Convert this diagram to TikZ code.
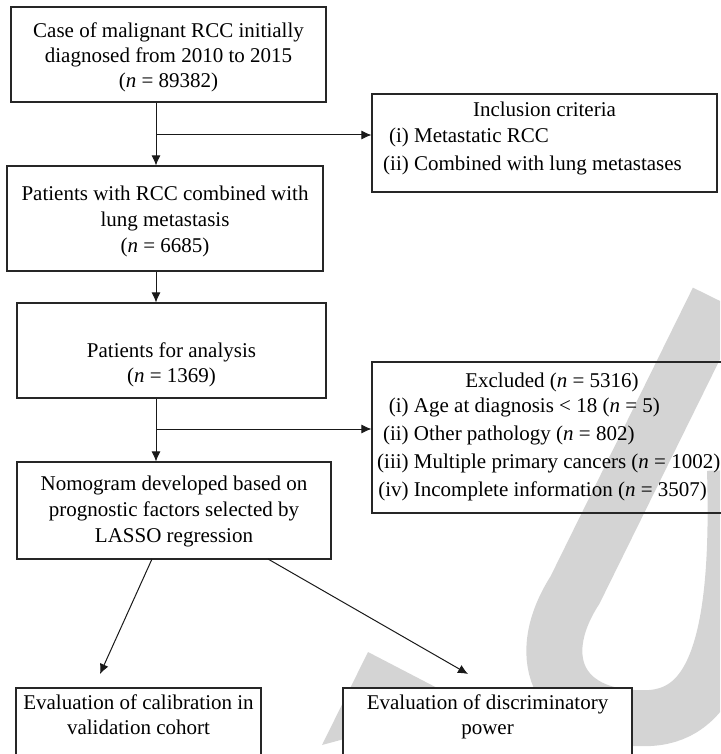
\documentclass[tikz,border=0pt]{standalone}
\usepackage{fontspec}
\setmainfont{Liberation Serif}
\usetikzlibrary{arrows.meta}
\newcommand{\nn}{\textit{n}}
\newcommand{\ml}[1]{\begin{tabular}[t]{@{}c@{}}#1\end{tabular}}
\newcommand{\lst}[1]{\begin{tabular}[t]{@{}r@{\ }l@{}}#1\end{tabular}}
\begin{document}
\begin{tikzpicture}[x=1pt,y=-1pt,
  box/.style={draw=black!85, line width=1.1pt, inner sep=0pt},
  wbox/.style={box, fill=white},
  txt/.style={inner sep=0pt, anchor=base, font=\fontsize{21}{25}\selectfont},
  arr/.style={line width=1pt, draw=black!90, -{Latex[length=10pt,width=9pt]}},
  wm/.style={draw=black!17, line width=56pt},
  wmf/.style={fill=black!17}]
\useasboundingbox (0,0) rectangle (720,754);
% watermark
\begin{scope}
\clip (0,0) rectangle (720,754);
\draw[wm] (718,300) -- (575,590) .. controls (530,660) and (560,722) .. (650,718)
  .. controls (715,714) and (740,640) .. (735,470);
\fill[wmf] (322,745) -- (368,652) -- (470,705) -- cycle;
\end{scope}
% boxes
\node[box, minimum width=315pt, minimum height=95pt] (b1) at (168.5,54.5) {};
\node[box, minimum width=316pt, minimum height=105pt] (b2) at (165,218.5) {};
\node[box, minimum width=309pt, minimum height=95pt] (b3) at (171.5,350.5) {};
\node[box, minimum width=314pt, minimum height=97pt] (b4) at (174,510.5) {};
\node[box, minimum width=345pt, minimum height=98pt] (inc) at (544.5,143) {};
\node[box, minimum width=360pt, minimum height=151pt] (exc) at (552,437.5) {};
\node[wbox, minimum width=245pt, minimum height=84pt] (b5) at (138.5,730) {};
\node[wbox, minimum width=289pt, minimum height=84pt] (b6) at (487.5,730) {};
% texts
\node[txt] (t1) at (168.5,38) {\ml{Case of malignant RCC initially\\diagnosed from 2010 to 2015\\(\nn{} = 89382)}};
\node[txt, font=\fontsize{21}{26}\selectfont] (t2) at (165,200) {\ml{Patients with RCC combined with\\lung metastasis\\(\nn{} = 6685)}};
\node[txt] (t3) at (171.5,357) {\ml{Patients for analysis\\(\nn{} = 1369)}};
\node[txt, font=\fontsize{21}{26}\selectfont] (t4) at (174,490) {\ml{Nomogram developed based on\\prognostic factors selected by\\LASSO regression}};
\node[txt] (t5) at (138.5,709) {\ml{Evaluation of calibration in\\validation cohort}};
\node[txt] (t6) at (487.5,709) {\ml{Evaluation of discriminatory\\power}};
\node[txt] (inct) at (544.5,117) {Inclusion criteria};
\node[txt, anchor=base west, font=\fontsize{21}{28}\selectfont] (incl) at (383,143) {\lst{(i)&Metastatic RCC\\(ii)&Combined with lung metastases}};
\node[txt] (exct) at (552,387) {Excluded (\nn{} = 5316)};
\node[txt, anchor=base west, font=\fontsize{21}{28.3}\selectfont] (excl) at (377,412) {\lst{(i)&Age at diagnosis < 18 (\nn{} = 5)\\(ii)&Other pathology (\nn{} = 802)\\(iii)&Multiple primary cancers (\nn{} = 1002)\\(iv)&Incomplete information (\nn{} = 3507)}};
% connectors
\coordinate (cx) at (156,0);
\coordinate (br1) at (156,135);
\coordinate (br2) at (156,429);
\coordinate (s1) at (152,559);
\coordinate (s2) at (268,559);
\coordinate (e1) at (100,674);
\coordinate (e2) at (468,674);
\draw[arr] (b1.south -| cx) -- (b2.north -| cx);
\draw[arr] (br1) -- (br1 -| inc.west);
\draw[arr] (b2.south -| cx) -- (b3.north -| cx);
\draw[arr] (b3.south -| cx) -- (b4.north -| cx);
\draw[arr] (br2) -- (br2 -| exc.west);
\draw[arr] (s1) -- (e1);
\draw[arr] (s2) -- (e2);
\end{tikzpicture}
\end{document}
